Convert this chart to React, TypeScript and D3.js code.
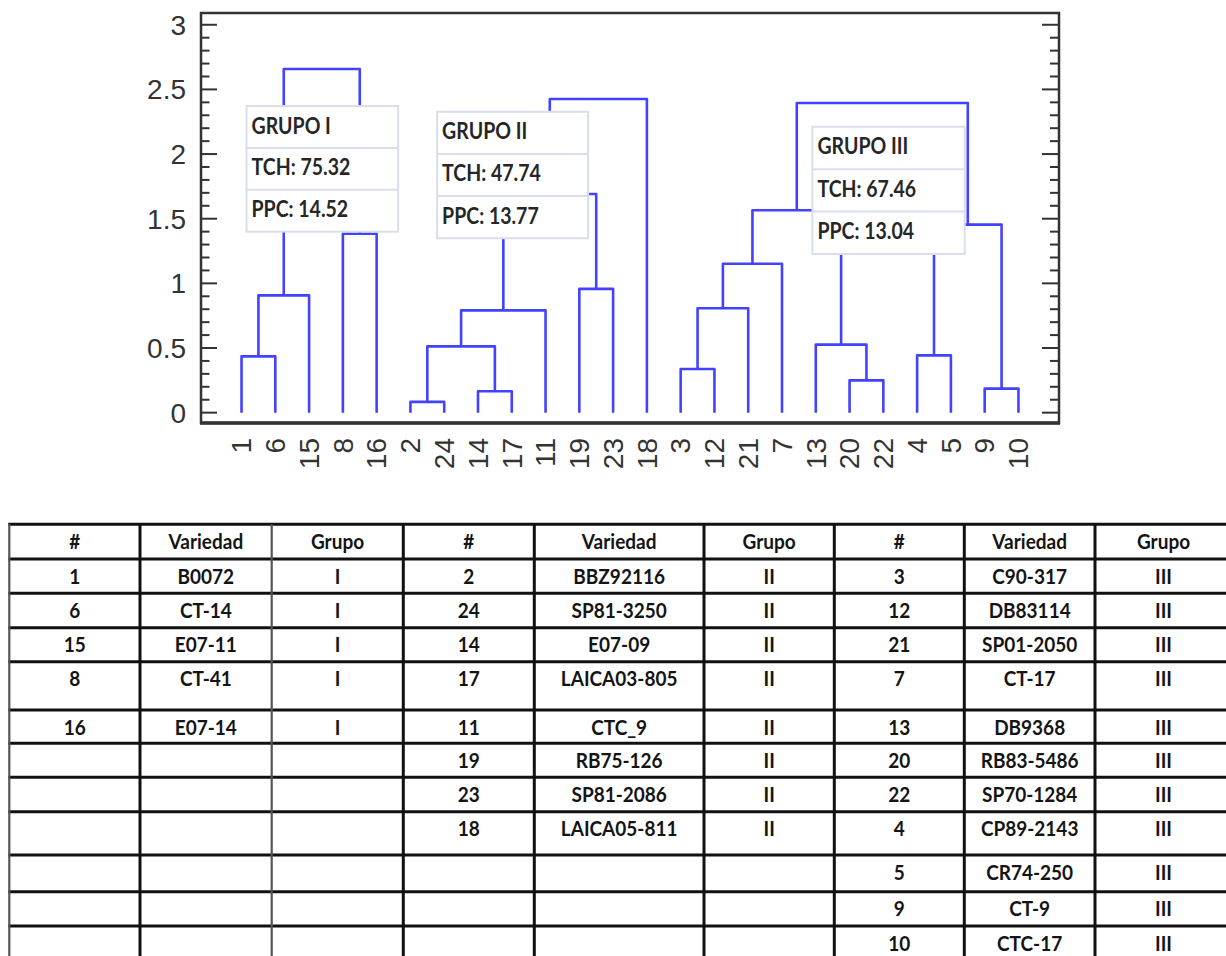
import React from "react";
import * as d3 from "d3";

// ---------------- DATA ----------------
const leafOrder = ["1", "6", "15", "8", "16", "2", "24", "14", "17", "11", "19", "23", "18", "3", "12", "21", "7", "13", "20", "22", "4", "5", "9", "10"];

// [left child, right child, distance] ; clusters are named c1, c2, ... in order
const merges: [string, string, number][] = [
  ["1", "6", 0.435],
  ["c1", "15", 0.907],
  ["8", "16", 1.384],
  ["c2", "c3", 2.658],
  ["2", "24", 0.083],
  ["14", "17", 0.165],
  ["c5", "c6", 0.513],
  ["c7", "11", 0.791],
  ["19", "23", 0.957],
  ["c8", "c9", 1.691],
  ["c10", "18", 2.426],
  ["3", "12", 0.338],
  ["c12", "21", 0.807],
  ["c13", "7", 1.152],
  ["20", "22", 0.25],
  ["13", "c15", 0.526],
  ["c14", "c16", 1.565],
  ["4", "5", 0.443],
  ["9", "10", 0.186],
  ["c18", "c19", 1.454],
  ["c17", "c20", 2.395],
];

const yTickValues = [0, 0.5, 1, 1.5, 2, 2.5, 3];
const yTickLabels = ["0", "0.5", "1", "1.5", "2", "2.5", "3"];

const groupNames = ["GRUPO I", "GRUPO II", "GRUPO III"];
const groupTCH = ["75.32", "47.74", "67.46"];
const groupPPC = ["14.52", "13.77", "13.04"];

const tableHeader = ["#", "Variedad", "Grupo"];
const grupoINum = ["1", "6", "15", "8", "16"];
const grupoIVar = ["B0072", "CT-14", "E07-11", "CT-41", "E07-14"];
const grupoIINum = ["2", "24", "14", "17", "11", "19", "23", "18"];
const grupoIIVar = ["BBZ92116", "SP81-3250", "E07-09", "LAICA03-805", "CTC_9", "RB75-126", "SP81-2086", "LAICA05-811"];
const grupoIIINum = ["3", "12", "21", "7", "13", "20", "22", "4", "5", "9", "10"];
const grupoIIIVar = ["C90-317", "DB83114", "SP01-2050", "CT-17", "DB9368", "RB83-5486", "SP70-1284", "CP89-2143", "CR74-250", "CT-9", "CTC-17"];
const romanGroups = ["I", "II", "III"];

// ---------------- LAYOUT ----------------
const W = 1226;
const H = 956;
const plot = { left: 201, right: 1059, top: 13, bottom: 423 };
const lineColor = "#4242ff";
const axisColor = "#333333";

// annotation boxes in data space (leaf index, distance)
const boxLayout = [
  { i0: 0.148, i1: 4.636, top: 2.371, bottom: 1.4 },
  { i0: 5.79, i1: 10.26, top: 2.327, bottom: 1.349 },
  { i0: 16.9, i1: 21.41, top: 2.211, bottom: 1.227 },
];

const tableLeft = 9.3;
const colWidths = [130.7, 131.7, 131.6, 131, 169.7, 130.3, 130, 130.7, 137];
const colLineDark = [false, true, false, true, true, true, true, true, true, true];
const tableTop = 524.3;
const rowHeights = [34.7, 34.3, 34.4, 34, 48.3, 33.3, 34, 34.4, 43.3, 36.7, 34.3, 40];

export default function App() {
  const x = d3.scalePoint<string>().domain(leafOrder).range([plot.left, plot.right]).padding(1.2);
  const y = d3.scaleLinear().domain([-0.08, 3.091]).range([plot.bottom, plot.top]);
  const idx = d3
    .scaleLinear()
    .domain([0, leafOrder.length - 1])
    .range([x(leafOrder[0]) as number, x(leafOrder[leafOrder.length - 1]) as number]);

  const nodes = new Map<string, { x: number; h: number }>();
  leafOrder.forEach((l) => nodes.set(l, { x: x(l) as number, h: 0 }));
  const paths: string[] = [];
  merges.forEach(([a, b, h], i) => {
    const na = nodes.get(a)!;
    const nb = nodes.get(b)!;
    const p = d3.path();
    p.moveTo(na.x, y(na.h));
    p.lineTo(na.x, y(h));
    p.lineTo(nb.x, y(h));
    p.lineTo(nb.x, y(nb.h));
    paths.push(p.toString());
    nodes.set("c" + (i + 1), { x: (na.x + nb.x) / 2, h });
  });

  const minorTicks = d3.range(0, 30.5, 1).map((v) => v / 10);

  // table
  const colX: number[] = [tableLeft];
  colWidths.forEach((w) => colX.push(colX[colX.length - 1] + w));
  const rowY: number[] = [tableTop];
  rowHeights.forEach((h) => rowY.push(rowY[rowY.length - 1] + h));
  const groupsNum = [grupoINum, grupoIINum, grupoIIINum];
  const groupsVar = [grupoIVar, grupoIIVar, grupoIIIVar];

  const tableFont = "Lato, 'Open Sans', sans-serif";
  const cellText = (txt: string, col: number, row: number, key: string) => {
    const cx = (colX[col] + colX[col + 1]) / 2;
    const by = rowY[row] + 24.5;
    return (
      <text
        key={key}
        transform={`translate(${cx},${by}) scale(1,1.13)`}
        textAnchor="middle"
        fontFamily={tableFont}
        fontWeight={700}
        fontSize={19}
        fill="#141414"
      >
        {txt}
      </text>
    );
  };

  return (
    <div style={{ position: "absolute", left: 0, top: 0, width: W, height: H, background: "#fff" }}>
      <svg width={W} height={H} viewBox={`0 0 ${W} ${H}`} style={{ display: "block" }}>
        <rect x={0} y={0} width={W} height={H} fill="#fff" />
        {/* dendrogram */}
        <g fill="none" stroke={lineColor} strokeWidth={2.6} strokeLinejoin="round" strokeLinecap="butt">
          {paths.map((d, i) => (
            <path key={i} d={d} />
          ))}
        </g>

        {/* frame */}
        <rect
          x={plot.left}
          y={plot.top}
          width={plot.right - plot.left}
          height={plot.bottom - plot.top}
          fill="none"
          stroke={axisColor}
          strokeWidth={2.5}
        />
        <line x1={plot.left - 1} x2={plot.right + 1} y1={plot.bottom} y2={plot.bottom} stroke={axisColor} strokeWidth={3.5} />

        {/* ticks */}
        <g stroke={axisColor} strokeWidth={2}>
          {minorTicks.map((v, i) => {
            const major = Math.abs(v * 2 - Math.round(v * 2)) < 1e-6;
            const len = major ? 16 : 8.5;
            const yy = y(v);
            return (
              <g key={i}>
                <line x1={plot.left} x2={plot.left + len} y1={yy} y2={yy} />
                <line x1={plot.right} x2={plot.right - (major ? 17 : 9)} y1={yy} y2={yy} />
              </g>
            );
          })}
        </g>
        <g fontFamily="'Liberation Sans', Arial, sans-serif" fontSize={28} fill={axisColor}>
          {yTickValues.map((v, i) => (
            <text key={i} x={186} y={y(v) + 10} textAnchor="end">
              {yTickLabels[i]}
            </text>
          ))}
          {leafOrder.map((l) => (
            <text
              key={l}
              transform={`translate(${x(l)},438) rotate(-90)`}
              textAnchor="end"
              dy="0.35em"
            >
              {l}
            </text>
          ))}
        </g>

        {/* annotation boxes */}
        {boxLayout.map((b, gi) => {
          const x0 = idx(b.i0);
          const x1 = idx(b.i1);
          const y0 = y(b.top);
          const y1 = y(b.bottom);
          const rh = (y1 - y0) / 3;
          const lines = [groupNames[gi], "TCH: " + groupTCH[gi], "PPC: " + groupPPC[gi]];
          return (
            <g key={gi}>
              <rect x={x0} y={y0} width={x1 - x0} height={y1 - y0} fill="#fff" stroke="#d8deea" strokeWidth={2} />
              {[1, 2].map((r) => (
                <line key={r} x1={x0} x2={x1} y1={y0 + rh * r} y2={y0 + rh * r} stroke="#d8deea" strokeWidth={2} />
              ))}
              {lines.map((t, r) => (
                <text
                  key={r}
                  transform={`translate(${x0 + 5},${y0 + rh * r + 27.5}) scale(1,1.18)`}
                  fontFamily={tableFont}
                  fontWeight={700}
                  fontSize={19.5}
                  fill="#262626"
                >
                  {t}
                </text>
              ))}
            </g>
          );
        })}

        {/* table */}
        <g>
          {rowY.map((yy, i) => (
            <line key={"h" + i} x1={colX[0] - 1} x2={colX[colX.length - 1]} y1={yy} y2={yy} stroke="#111" strokeWidth={3} />
          ))}
          {colX.map((xx, i) => (
            <line
              key={"v" + i}
              x1={xx}
              x2={xx}
              y1={tableTop}
              y2={rowY[rowY.length - 1]}
              stroke={colLineDark[i] ? "#111" : "#555"}
              strokeWidth={colLineDark[i] ? 3 : 2.2}
            />
          ))}
          {[0, 1, 2].map((g) =>
            tableHeader.map((t, c) => cellText(t, g * 3 + c, 0, `hd${g}-${c}`))
          )}
          {groupsNum.map((nums, g) =>
            nums.map((n, r) => (
              <g key={`r${g}-${r}`}>
                {cellText(n, g * 3, r + 1, "n")}
                {cellText(groupsVar[g][r], g * 3 + 1, r + 1, "v")}
                {cellText(romanGroups[g], g * 3 + 2, r + 1, "g")}
              </g>
            ))
          )}
        </g>
      </svg>
    </div>
  );
}
